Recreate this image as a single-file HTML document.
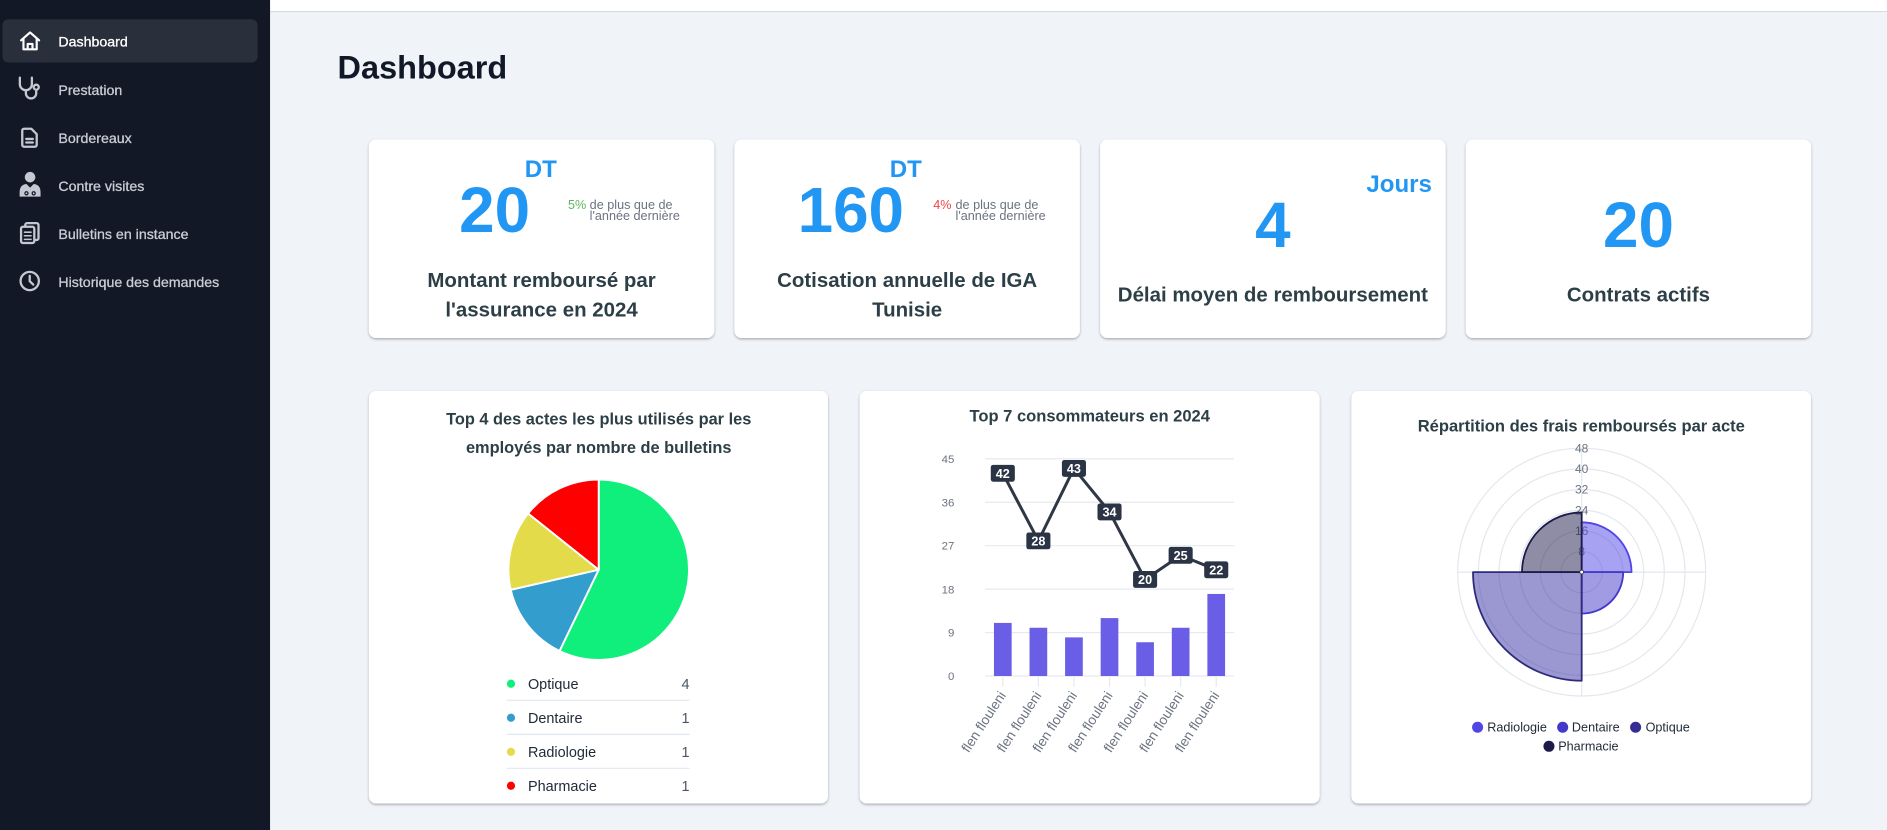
<!DOCTYPE html>
<html>
<head>
<meta charset="utf-8">
<style>
  html,body{margin:0;padding:0;width:1887px;height:830px;overflow:hidden;background:#f0f3f8;}
  svg{display:block;}
  text{font-family:"Liberation Sans", Arial, sans-serif;}
</style>
</head>
<body>
<svg width="1887" height="830" viewBox="0 0 1568 690" preserveAspectRatio="none" xmlns="http://www.w3.org/2000/svg">
  <defs>
    <filter id="sh" x="-5%" y="-5%" width="110%" height="115%">
      <feDropShadow dx="0" dy="1" stdDeviation="1.1" flood-color="#000" flood-opacity="0.32"/>
    </filter>
  </defs>

  <!-- main background -->
  <rect x="0" y="0" width="1568" height="690" fill="#f0f3f8"/>

  <!-- top bar -->
  <rect x="224" y="0" width="1344" height="9.2" fill="#ffffff"/>
  <line x1="224" y1="9.6" x2="1568" y2="9.6" stroke="#d8dbe0" stroke-width="1"/>

  <!-- sidebar -->
  <rect x="0" y="0" width="224.4" height="690" fill="#121826"/>
  <rect x="2" y="16" width="212" height="36" rx="5" fill="#2a2f3c"/>

  <!-- sidebar icons -->
  <g fill="none" stroke="#ffffff" stroke-width="1.8" stroke-linejoin="round" stroke-linecap="round">
    <path d="M17.5 33.5 L25 27 L32.5 33.5 M19.5 31.8 V41 H30.5 V31.8 M23 41 V36.5 H27 V41"/>
  </g>
  <g fill="none" stroke="#c4c8d0" stroke-width="1.9" stroke-linejoin="round" stroke-linecap="round">
    <path d="M16.5 64.5 V70 a5 5 0 0 0 10 0 V64.5"/>
    <path d="M21.5 75 V77.5 a4.3 4.3 0 0 0 8.6 0 V75"/>
    <circle cx="30.1" cy="72.5" r="2.1"/>
    <path d="M20 107 H26 L30.5 111.5 V120.5 a1.5 1.5 0 0 1 -1.5 1.5 H20 a1.5 1.5 0 0 1 -1.5 -1.5 V108.5 a1.5 1.5 0 0 1 1.5 -1.5 Z"/>
    <path d="M21.8 115.5 H27.3 M21.8 118.5 H27.3"/>
    <rect x="21" y="185.5" width="11" height="14" rx="1.5"/>
    <rect x="17.5" y="188.5" width="11" height="13.5" rx="1.5" fill="#121826"/>
    <path d="M20.3 193 H25.8 M20.3 196 H25.8 M20.3 199 H25.8" stroke-width="1.3"/>
    <circle cx="24.7" cy="233.6" r="7.6"/>
    <path d="M24.7 229.3 V233.8 L27.6 236.6"/>
  </g>
  <g fill="#c4c8d0">
    <circle cx="25" cy="147.3" r="4.4"/>
    <path d="M16.3 163.5 V160 Q16.3 153.5 22 153 L25 156 L28 153 Q33.7 153.5 33.7 160 V163.5 Z"/>
  </g>
  <g fill="none" stroke="#121826" stroke-width="1">
    <circle cx="22" cy="160.7" r="1.3"/>
    <circle cx="28" cy="160.7" r="1.3"/>
  </g>

  <!-- sidebar labels -->
  <g font-size="11.8" stroke-width="0.25">
    <text x="48.5" y="38.8" fill="#ffffff" stroke="#ffffff">Dashboard</text>
    <text x="48.5" y="78.8" fill="#c9cdd4" stroke="#c9cdd4">Prestation</text>
    <text x="48.5" y="118.8" fill="#c9cdd4" stroke="#c9cdd4">Bordereaux</text>
    <text x="48.5" y="158.8" fill="#c9cdd4" stroke="#c9cdd4">Contre visites</text>
    <text x="48.5" y="198.8" fill="#c9cdd4" stroke="#c9cdd4">Bulletins en instance</text>
    <text x="48.5" y="238.8" fill="#c9cdd4" stroke="#c9cdd4">Historique des demandes</text>
  </g>

  <!-- heading -->
  <text x="280.5" y="65.1" font-size="27" font-weight="bold" fill="#111827">Dashboard</text>

  <!-- KPI cards -->
  <g filter="url(#sh)" fill="#ffffff">
    <rect x="306.5" y="116" width="287" height="165" rx="6"/>
    <rect x="610.3" y="116" width="287" height="165" rx="6"/>
    <rect x="914.2" y="116" width="287" height="165" rx="6"/>
    <rect x="1218" y="116" width="287" height="165" rx="6"/>
  </g>

  <!-- card 1 -->
  <text x="436" y="147" font-size="20" font-weight="bold" fill="#2196f3">DT</text>
  <text x="381.5" y="193" font-size="53" font-weight="bold" fill="#2196f3">20</text>
  <text x="472" y="173.6" font-size="10.5" fill="#5cb85c">5%</text>
  <text x="490" y="173.6" font-size="10.5" fill="#6b7280">de plus que de</text>
  <text x="490" y="182.8" font-size="10.5" fill="#6b7280">l'année dernière</text>
  <g font-size="17" font-weight="bold" fill="#2d3f46" text-anchor="middle">
    <text x="450" y="238.7">Montant remboursé par</text>
    <text x="450" y="263.1">l'assurance en 2024</text>
  </g>

  <!-- card 2 -->
  <text x="739.3" y="147" font-size="20" font-weight="bold" fill="#2196f3">DT</text>
  <text x="662.8" y="193" font-size="53" font-weight="bold" fill="#2196f3">160</text>
  <text x="775.5" y="173.6" font-size="10.5" fill="#ef4444">4%</text>
  <text x="794" y="173.6" font-size="10.5" fill="#6b7280">de plus que de</text>
  <text x="794" y="182.8" font-size="10.5" fill="#6b7280">l'année dernière</text>
  <g font-size="17" font-weight="bold" fill="#2d3f46" text-anchor="middle">
    <text x="753.8" y="238.7">Cotisation annuelle de IGA</text>
    <text x="753.8" y="263.1">Tunisie</text>
  </g>

  <!-- card 3 -->
  <text x="1135.4" y="159.8" font-size="20" font-weight="bold" fill="#2196f3">Jours</text>
  <text x="1057.7" y="205.5" font-size="53" font-weight="bold" fill="#2196f3" text-anchor="middle">4</text>
  <text x="1057.7" y="250.7" font-size="17" font-weight="bold" fill="#2d3f46" text-anchor="middle">Délai moyen de remboursement</text>

  <!-- card 4 -->
  <text x="1361.5" y="205.5" font-size="53" font-weight="bold" fill="#2196f3" text-anchor="middle">20</text>
  <text x="1361.5" y="250.7" font-size="17" font-weight="bold" fill="#2d3f46" text-anchor="middle">Contrats actifs</text>

  <!-- chart cards -->
  <g filter="url(#sh)" fill="#ffffff">
    <rect x="306.6" y="325" width="381.4" height="343" rx="6"/>
    <rect x="714.3" y="325" width="382.2" height="343" rx="6"/>
    <rect x="1123" y="325" width="381.8" height="343" rx="6"/>
  </g>

  <!-- PIE CARD -->
  <g font-size="13.6" font-weight="bold" fill="#2d3f46" text-anchor="middle">
    <text x="497.5" y="353.1">Top 4 des actes les plus utilisés par les</text>
    <text x="497.5" y="376.4">employés par nombre de bulletins</text>
  </g>
  <g stroke="#ffffff" stroke-width="1.6" stroke-linejoin="round">
    <path d="M497.5 473.6 L497.5 398.6 A75 75 0 1 1 464.96 541.17 Z" fill="#10ef7b"/>
    <path d="M497.5 473.6 L464.96 541.17 A75 75 0 0 1 424.38 490.29 Z" fill="#339ecd"/>
    <path d="M497.5 473.6 L424.38 490.29 A75 75 0 0 1 438.86 426.84 Z" fill="#e3db4a"/>
    <path d="M497.5 473.6 L438.86 426.84 A75 75 0 0 1 497.5 398.6 Z" fill="#ff0000"/>
  </g>
  <g stroke="#e2e8f0" stroke-width="1">
    <line x1="421" y1="582.2" x2="573" y2="582.2"/>
    <line x1="421" y1="610.5" x2="573" y2="610.5"/>
    <line x1="421" y1="638.7" x2="573" y2="638.7"/>
  </g>
  <circle cx="424.6" cy="568.4" r="3.4" fill="#10ef7b"/>
  <circle cx="424.6" cy="596.7" r="3.4" fill="#339ecd"/>
  <circle cx="424.6" cy="625" r="3.4" fill="#e3db4a"/>
  <circle cx="424.6" cy="653.2" r="3.4" fill="#ff0000"/>
  <g font-size="12" fill="#1f2937">
    <text x="438.7" y="572.6">Optique</text>
    <text x="438.7" y="600.9">Dentaire</text>
    <text x="438.7" y="629.2">Radiologie</text>
    <text x="438.7" y="657.4">Pharmacie</text>
  </g>
  <g font-size="12" fill="#4b5563" text-anchor="end">
    <text x="573" y="572.6">4</text>
    <text x="573" y="600.9">1</text>
    <text x="573" y="629.2">1</text>
    <text x="573" y="657.4">1</text>
  </g>

  <!-- LINE/BAR CARD -->
  <text x="905.5" y="350.4" font-size="13.75" font-weight="bold" fill="#2d3f46" text-anchor="middle">Top 7 consommateurs en 2024</text>
  <g stroke="#e6e9ef" stroke-width="1">
    <line x1="818.5" y1="381.4" x2="1025.4" y2="381.4"/>
    <line x1="818.5" y1="417.52" x2="1025.4" y2="417.52"/>
    <line x1="818.5" y1="453.64" x2="1025.4" y2="453.64"/>
    <line x1="818.5" y1="489.76" x2="1025.4" y2="489.76"/>
    <line x1="818.5" y1="525.88" x2="1025.4" y2="525.88"/>
    <line x1="818.5" y1="562" x2="1025.4" y2="562"/>
  </g>
  <g stroke="#e6e9ef" stroke-width="1">
    <line x1="833.28" y1="563" x2="833.28" y2="571"/>
    <line x1="862.84" y1="563" x2="862.84" y2="571"/>
    <line x1="892.39" y1="563" x2="892.39" y2="571"/>
    <line x1="921.95" y1="563" x2="921.95" y2="571"/>
    <line x1="951.51" y1="563" x2="951.51" y2="571"/>
    <line x1="981.06" y1="563" x2="981.06" y2="571"/>
    <line x1="1010.62" y1="563" x2="1010.62" y2="571"/>
  </g>
  <g font-size="9.5" fill="#6b7280" text-anchor="end">
    <text x="793" y="384.8">45</text>
    <text x="793" y="420.9">36</text>
    <text x="793" y="457">27</text>
    <text x="793" y="493.2">18</text>
    <text x="793" y="529.3">9</text>
    <text x="793" y="565.4">0</text>
  </g>
  <g fill="#6a5ee6">
    <rect x="825.93" y="517.85" width="14.7" height="44.15"/>
    <rect x="855.49" y="521.87" width="14.7" height="40.13"/>
    <rect x="885.04" y="529.89" width="14.7" height="32.11"/>
    <rect x="914.6" y="513.84" width="14.7" height="48.16"/>
    <rect x="944.16" y="533.91" width="14.7" height="28.09"/>
    <rect x="973.71" y="521.87" width="14.7" height="40.13"/>
    <rect x="1003.27" y="493.77" width="14.7" height="68.23"/>
  </g>
  <polyline points="833.28,393.44 862.84,449.63 892.39,389.43 921.95,425.55 951.51,481.73 981.06,461.67 1010.62,473.71" fill="none" stroke="#2f3747" stroke-width="2.5" stroke-linejoin="round"/>
  <g fill="#2b3445">
    <rect x="823.28" y="386.44" width="20" height="14" rx="2"/>
    <rect x="852.84" y="442.63" width="20" height="14" rx="2"/>
    <rect x="882.39" y="382.43" width="20" height="14" rx="2"/>
    <rect x="911.95" y="418.55" width="20" height="14" rx="2"/>
    <rect x="941.51" y="474.73" width="20" height="14" rx="2"/>
    <rect x="971.06" y="454.67" width="20" height="14" rx="2"/>
    <rect x="1000.62" y="466.71" width="20" height="14" rx="2"/>
  </g>
  <g font-size="10.5" font-weight="bold" fill="#ffffff" text-anchor="middle">
    <text x="833.28" y="397.3">42</text>
    <text x="862.84" y="453.5">28</text>
    <text x="892.39" y="393.3">43</text>
    <text x="921.95" y="429.4">34</text>
    <text x="951.51" y="485.6">20</text>
    <text x="981.06" y="465.5">25</text>
    <text x="1010.62" y="477.6">22</text>
  </g>
  <g font-size="11.4" fill="#6b7280" text-anchor="end">
    <text x="836.3" y="578" transform="rotate(-57 836.3 578)">flen flouleni</text>
    <text x="865.8" y="578" transform="rotate(-57 865.8 578)">flen flouleni</text>
    <text x="895.4" y="578" transform="rotate(-57 895.4 578)">flen flouleni</text>
    <text x="925" y="578" transform="rotate(-57 925 578)">flen flouleni</text>
    <text x="954.5" y="578" transform="rotate(-57 954.5 578)">flen flouleni</text>
    <text x="984.1" y="578" transform="rotate(-57 984.1 578)">flen flouleni</text>
    <text x="1013.6" y="578" transform="rotate(-57 1013.6 578)">flen flouleni</text>
  </g>

  <!-- POLAR CARD -->
  <text x="1314" y="358.7" font-size="13.75" font-weight="bold" fill="#2d3f46" text-anchor="middle">Répartition des frais remboursés par acte</text>
  <g fill="none" stroke="#e3e7ee" stroke-width="1">
    <circle cx="1314.3" cy="475.6" r="17.17"/>
    <circle cx="1314.3" cy="475.6" r="34.33"/>
    <circle cx="1314.3" cy="475.6" r="51.5"/>
    <circle cx="1314.3" cy="475.6" r="68.67"/>
    <circle cx="1314.3" cy="475.6" r="85.83"/>
    <circle cx="1314.3" cy="475.6" r="103"/>
    <line x1="1211.3" y1="475.6" x2="1417.3" y2="475.6"/>
    <line x1="1314.3" y1="372.6" x2="1314.3" y2="578.6"/>
  </g>
  <g font-size="10" fill="#6b7280" text-anchor="middle">
    <text x="1314.3" y="376.1">48</text>
    <text x="1314.3" y="393.3">40</text>
    <text x="1314.3" y="410.4">32</text>
    <text x="1314.3" y="427.6">24</text>
    <text x="1314.3" y="444.8">16</text>
    <text x="1314.3" y="461.9">8</text>
  </g>
  <path d="M1314.3 475.6 L1314.3 434.2 A41.4 41.4 0 0 1 1355.7 475.6 Z" fill="rgba(79,70,229,0.5)" stroke="#4f46e5" stroke-width="1.5" stroke-linejoin="round"/>
  <path d="M1314.3 475.6 L1348.8 475.6 A34.5 34.5 0 0 1 1314.3 510.1 Z" fill="rgba(67,56,202,0.5)" stroke="#4338ca" stroke-width="1.5" stroke-linejoin="round"/>
  <path d="M1314.3 475.6 L1314.3 565.9 A90.3 90.3 0 0 1 1224 475.6 Z" fill="rgba(55,48,163,0.5)" stroke="#2e2a7e" stroke-width="1.5" stroke-linejoin="round"/>
  <path d="M1314.3 475.6 L1264.7 475.6 A49.6 49.6 0 0 1 1314.3 426 Z" fill="rgba(30,27,75,0.5)" stroke="#1e1b4b" stroke-width="1.5" stroke-linejoin="round"/>
  <circle cx="1314.3" cy="475.6" r="1.6" fill="#ffffff" stroke="#333a4d" stroke-width="0.8"/>

  <circle cx="1227.8" cy="604.6" r="4.6" fill="#4f46e5"/>
  <circle cx="1298.5" cy="604.6" r="4.6" fill="#4338ca"/>
  <circle cx="1359.1" cy="604.6" r="4.6" fill="#332d94"/>
  <circle cx="1287.1" cy="620.4" r="4.6" fill="#1e1b4b"/>
  <g font-size="10.5" fill="#1f2937">
    <text x="1235.8" y="608.3">Radiologie</text>
    <text x="1306.2" y="608.3">Dentaire</text>
    <text x="1367.4" y="608.3">Optique</text>
    <text x="1294.8" y="624.1">Pharmacie</text>
  </g>
</svg>
</body>
</html>
